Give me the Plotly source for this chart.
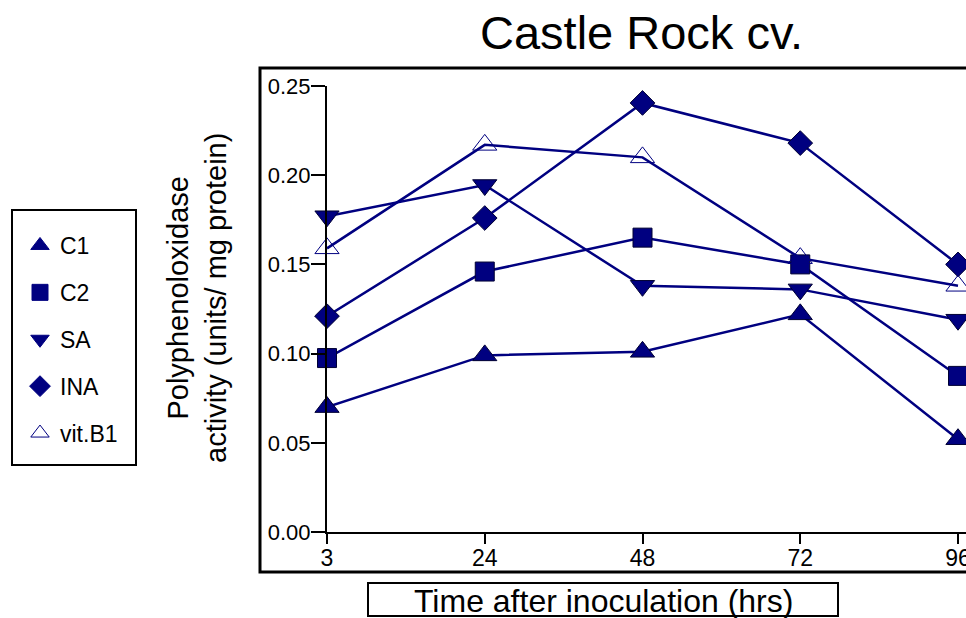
import plotly.graph_objects as go

times = ["3", "24", "48", "72", "96"]
c1 = [0.070, 0.099, 0.101, 0.122, 0.052]
c2 = [0.0975, 0.146, 0.165, 0.150, 0.0875]
sa = [0.177, 0.1945, 0.138, 0.136, 0.119]
ina = [0.121, 0.176, 0.2405, 0.218, 0.150]
vitb1 = [0.159, 0.217, 0.210, 0.1535, 0.138]
y_ticks = [0.00, 0.05, 0.10, 0.15, 0.20, 0.25]

NAVY = "#000080"
FONT = "Liberation Sans, Arial, sans-serif"

series = [
    ("C1", c1, "triangle-up", 21),
    ("C2", c2, "square", 19),
    ("SA", sa, "triangle-down", 21),
    ("INA", ina, "diamond", 19),
    ("vit.B1", vitb1, "triangle-up-open", 21),
]

fig = go.Figure()
for name, vals, sym, size in series:
    fig.add_trace(go.Scatter(
        x=times, y=vals, mode="lines+markers", name=name, showlegend=False,
        line=dict(color=NAVY, width=2.5),
        marker=dict(symbol=sym, size=size, color=NAVY,
                    line=dict(color=NAVY if "open" in sym else "#000033", width=1)),
        cliponaxis=False,
    ))
for name, vals, sym, size in series:
    fig.add_trace(go.Scatter(
        x=[None], y=[None], mode="markers", name=name, legendgroup=name,
        marker=dict(symbol=sym, size=18, color=NAVY,
                    line=dict(color=NAVY, width=1)),
    ))

W, H = 966, 618
L, R, T, B = 327, 0, 86, 86
pw = W - L - R
ph = H - T - B

def px(x):
    return (x - L) / pw

def py(y):
    return (H - B - y) / ph

xr = [0, 639 / 157.75]

fig.update_layout(
    width=W, height=H,
    margin=dict(l=L, r=R, t=T, b=B, autoexpand=False),
    paper_bgcolor="white", plot_bgcolor="white",
    font=dict(family=FONT, color="black"),
    showlegend=True,
    legend=dict(x=px(20), y=py(224), xanchor="left", yanchor="top",
                font=dict(size=23, family=FONT), bgcolor="rgba(0,0,0,0)",
                traceorder="grouped", tracegroupgap=14, itemsizing="trace"),
    xaxis=dict(type="category", categoryarray=times, range=xr,
               showgrid=False, zeroline=False, showline=True, linecolor="black",
               linewidth=2, ticks="outside", ticklen=10, tickwidth=1.5,
               tickcolor="black", tickfont=dict(size=23, family=FONT),
               ticklabelstandoff=-6),
    yaxis=dict(range=[0, 0.25], tickvals=y_ticks, tickformat=".2f",
               showgrid=False, zeroline=False, showline=True, linecolor="black",
               linewidth=2, ticks="outside", ticklen=14, tickwidth=1.5,
               tickcolor="black", tickfont=dict(size=22, family=FONT),
               ticklabelstandoff=-4),
    xaxis2=dict(overlaying="x", anchor="y", range=xr, tickvals=[0, 1, 2, 3, 4],
                showticklabels=False, ticks="inside", ticklen=10, tickwidth=1.5,
                tickcolor="black", showgrid=False, zeroline=False, showline=False),
    yaxis2=dict(overlaying="y", anchor="x", side="left", range=[0, 0.25],
                tickvals=y_ticks, showticklabels=False, ticks="inside", ticklen=13,
                tickwidth=1.5, tickcolor="black", showgrid=False, zeroline=False,
                showline=False),
)

shapes = [
    dict(type="rect", xref="paper", yref="paper", x0=px(260), x1=px(1000),
         y0=py(572), y1=py(68), line=dict(color="black", width=3)),
    dict(type="rect", xref="paper", yref="paper", x0=px(12), x1=px(136),
         y0=py(465), y1=py(210), line=dict(color="black", width=2)),
    dict(type="rect", xref="paper", yref="paper", x0=px(368), x1=px(838),
         y0=py(616), y1=py(583), line=dict(color="black", width=2)),
]
fig.update_layout(shapes=shapes)

def ann(text, x, y, size, angle=0):
    fig.add_annotation(text=text, xref="paper", yref="paper", x=px(x), y=py(y),
                       xanchor="center", yanchor="middle", showarrow=False,
                       textangle=angle,
                       font=dict(size=size, family=FONT, color="black"))

ann("Castle Rock cv.", 641, 32, 47)
ann("Time after inoculation (hrs)", 603, 601, 32)
ann("Polyphenoloxidase<br>activity (units/ mg protein)", 197, 298, 29, -90)

fig.write_html("out.html", config={"displayModeBar": False})
with open("out.html", encoding="utf-8") as f:
    html = f.read()
html = html.replace("<head>", "<head><style>html,body{margin:0;padding:0;overflow:hidden;}</style>", 1)
with open("out.html", "w", encoding="utf-8") as f:
    f.write(html)
